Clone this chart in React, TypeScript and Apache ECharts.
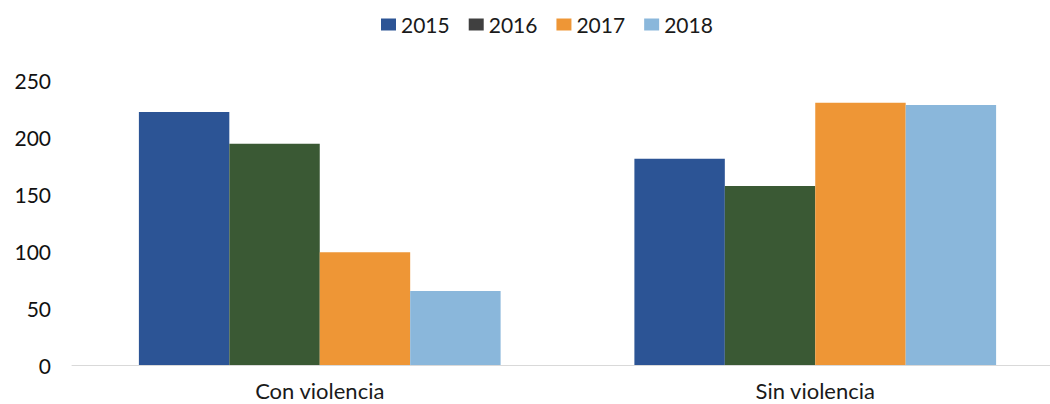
import React, { useEffect, useRef } from "react";
import * as echarts from "echarts";

const categories = ["Con violencia", "Sin violencia"];
const years = ["2015", "2016", "2017", "2018"];
const values2015 = [222, 181];
const values2016 = [194, 157];
const values2017 = [99, 230];
const values2018 = [65, 228];
const yTicks = { min: 0, max: 250, interval: 50 };

const colors = ["#2c5495", "#3a5934", "#ee9636", "#8ab7db"];
const legendIconColors = ["#2c5495", "#404040", "#ee9636", "#8ab7db"];

export default function App() {
  const ref = useRef<HTMLDivElement>(null);
  useEffect(() => {
    if (!ref.current) return;
    const chart = echarts.init(ref.current, undefined, { renderer: "svg" });
    const seriesData = [values2015, values2016, values2017, values2018];
    const font = "Lato, 'Open Sans', sans-serif";
    chart.setOption({
      animation: false,
      backgroundColor: "#ffffff",
      legend: {
        left: 376,
        top: 9,
        itemWidth: 15,
        itemHeight: 12,
        itemGap: 19,
        icon: "rect",
        textStyle: { fontFamily: font, fontSize: 21, color: "#1a1a1a" },
        data: years.map((y, i) => ({ name: y, itemStyle: { color: legendIconColors[i] } })),
      },
      grid: { left: 72, right: 8, top: 80, bottom: 39, containLabel: false },
      xAxis: {
        type: "category",
        data: categories,
        axisLine: { show: true, lineStyle: { color: "#d9d9d9", width: 1 } },
        axisTick: { show: false },
        axisLabel: { fontFamily: font, fontSize: 22, color: "#1a1a1a", margin: 13, lineHeight: 24 },
      },
      yAxis: {
        type: "value",
        min: yTicks.min,
        max: yTicks.max,
        interval: yTicks.interval,
        splitLine: { show: false },
        axisLine: { show: false },
        axisTick: { show: false },
        axisLabel: { fontFamily: font, fontSize: 21, color: "#111111", margin: 21 },
      },
      series: years.map((y, i) => ({
        name: y,
        type: "bar",
        data: seriesData[i],
        barGap: "0%",
        barCategoryGap: "27%",
        itemStyle: { color: colors[i] },
      })),
    });
    return () => chart.dispose();
  }, []);
  return (
    <div style={{ position: "fixed", left: 0, top: 0, width: 1050, height: 404, overflow: "hidden" }}>
      <div ref={ref} style={{ width: 1071, height: 404 }} />
    </div>
  );
}
